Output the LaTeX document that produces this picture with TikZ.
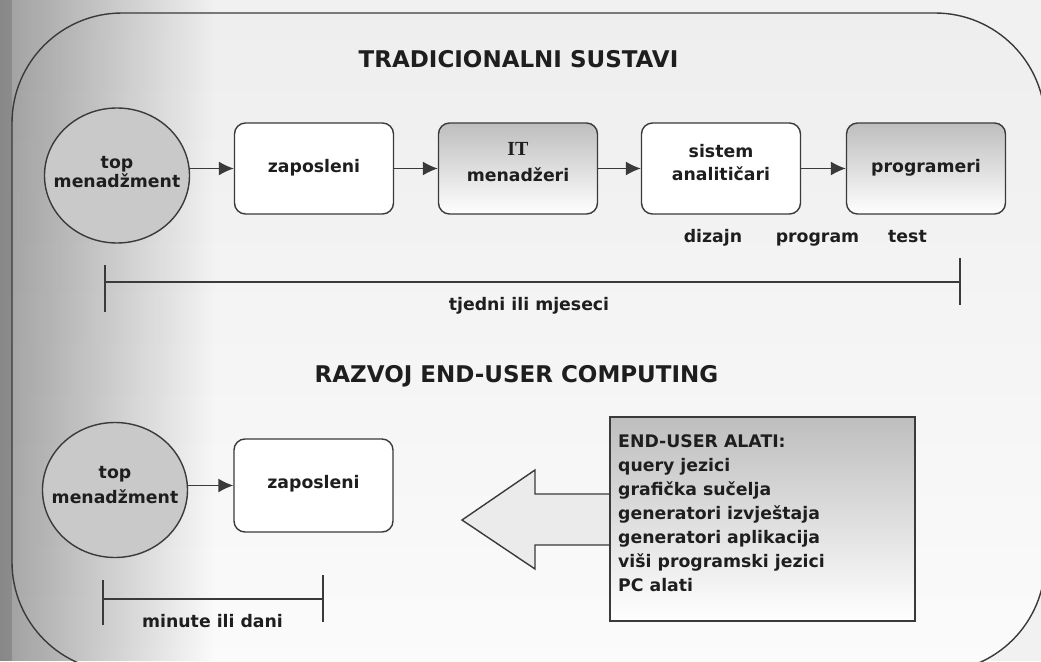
\documentclass[tikz,border=0pt]{standalone}
\usepackage{fontspec}
\setmainfont{DejaVu Sans}
\newfontfamily\slabfont{Liberation Serif}
\usetikzlibrary{arrows.meta,shapes.geometric,fadings}

\definecolor{ink}{HTML}{1E1E1E}
\definecolor{edge}{HTML}{3A3A3A}
\definecolor{paper}{HTML}{F1F1F1}
\definecolor{paneltop}{HTML}{EEEEEE}
\definecolor{panelbot}{HTML}{FBFBFB}
\definecolor{disc}{HTML}{C9C9C9}
\definecolor{shadetop}{HTML}{BEBEBE}
\definecolor{shademid}{HTML}{DEDEDE}
\definecolor{arrowfill}{HTML}{EBEBEB}

\tikzfading[name=hazefade, left color=transparent!0, right color=transparent!100]

\begin{document}
\begin{tikzpicture}[x=1pt,y=-1pt,
  panel/.style={rounded corners=110pt},
  stagebox/.style={draw=edge, line width=1.4pt, rounded corners=11pt,
    minimum width=159pt, minimum height=91pt, inner sep=0pt},
  plainbox/.style={stagebox, fill=white},
  shadedbox/.style={stagebox, top color=shadetop, bottom color=white, middle color=shademid},
  disc/.style={ellipse, draw=edge, line width=1.4pt, fill=disc,
    minimum width=145pt, minimum height=135pt, inner sep=0pt},
  toolbox/.style={rectangle, draw=edge, line width=1.4pt, top color=shadetop,
    bottom color=white, middle color=shademid, minimum width=305pt,
    minimum height=204pt, inner sep=0pt},
  lbl/.style={font=\fontsize{17.3}{21}\selectfont\bfseries, text=ink,
    inner sep=0pt, anchor=base},
  heading/.style={font=\fontsize{23}{28}\selectfont\bfseries, text=ink,
    inner sep=0pt, anchor=base},
  arr/.style={draw=edge, line width=1.4pt, -{Latex[length=15pt,width=14pt]}},
  span/.style={draw=edge, line width=1.4pt},
  bigarrow/.style={draw=edge, line width=1.4pt, fill=arrowfill, line join=miter}
]
\useasboundingbox (0,0) rectangle (1041,661);

% page and panel background
\fill[paper] (0,0) rectangle (1041,661);
\begin{scope}
  \clip (0,0) rectangle (1041,661);
  \shade[panel, top color=paneltop, bottom color=panelbot] (12,13) rectangle (1045,672);
  % darkened binding edge on the left
  \fill[black, fill opacity=0.34, path fading=hazefade] (0,0) rectangle (215,661);
  \fill[black, fill opacity=0.14] (0,0) rectangle (12,661);
  \draw[panel, edge, line width=1.4pt] (12,13) rectangle (1045,672);
\end{scope}

% ---- traditional systems ----
\node[heading] (title1) at (518.5,67.5) {TRADICIONALNI SUSTAVI};

\node[disc] (tm1) at (117,175.5) {};
\node[lbl] (tm1a) at (117,168) {top};
\node[lbl] (tm1b) at (117,187) {menadžment};

\node[plainbox] (zap1) at (314,168.5) {};
\node[lbl] (zap1t) at (314,172) {zaposleni};

\node[shadedbox] (itm) at (518,168.5) {};
\node[lbl, font=\fontsize{20}{21}\selectfont\bfseries\slabfont] (itma) at (518,155) {IT};
\node[lbl] (itmb) at (518,181) {menadžeri};

\node[plainbox] (sa) at (721,168.5) {};
\node[lbl] (saa) at (721,157) {sistem};
\node[lbl] (sab) at (721,180) {analitičari};

\node[shadedbox] (prog) at (926,168.5) {};
\node[lbl] (progt) at (926,172) {programeri};

\draw[arr] (tm1.east |- zap1.west) -- (zap1.west);
\draw[arr] (zap1) -- (itm);
\draw[arr] (itm) -- (sa);
\draw[arr] (sa) -- (prog);

\node[lbl] (dizajn) at (713,242) {dizajn};
\node[lbl] (program) at (817.5,242) {program};
\node[lbl] (test) at (907.5,242) {test};

\coordinate (s1l) at (105,282);
\coordinate (s1r) at (960,282);
\draw[span] (s1l) -- (s1r);
\draw[span] (s1l) ++(0,-17) -- ++(0,47);
\draw[span] (s1r) ++(0,-24) -- ++(0,47);
\node[lbl] (weeks) at (529,310) {tjedni ili mjeseci};

% ---- end-user computing ----
\node[heading] (title2) at (516.5,382) {RAZVOJ END-USER COMPUTING};

\node[disc] (tm2) at (115,490) {};
\node[lbl] (tm2a) at (115,478) {top};
\node[lbl] (tm2b) at (115,503) {menadžment};

\node[plainbox, minimum height=93pt] (zap2) at (313.5,485.5) {};
\node[lbl] (zap2t) at (313.5,488) {zaposleni};

\draw[arr] (tm2.east |- zap2.west) -- (zap2.west);

\coordinate (s2l) at (103,599);
\coordinate (s2r) at (323,599);
\draw[span] (s2l) -- (s2r);
\draw[span] (s2l) ++(0,-19) -- ++(0,45);
\draw[span] (s2r) ++(0,-24) -- ++(0,47);
\node[lbl] (minutes) at (212.5,627) {minute ili dani};

% broad arrow feeding the tools into the end-user chain
\coordinate (tip) at (462,520);
\draw[bigarrow] (610,494) -- (535,494) -- (535,470) -- (tip)
  -- (535,569) -- (535,545) -- (610,545);

\node[toolbox] (tools) at (762.5,519) {};
\node[lbl, anchor=north west, align=left,
  font=\fontsize{17.3}{24}\selectfont\bfseries] (toolst) at (618,434.4)
  {END-USER ALATI:\\query jezici\\grafička sučelja\\generatori izvještaja\\generatori aplikacija\\viši programski jezici\\PC alati};

\end{tikzpicture}
\end{document}
